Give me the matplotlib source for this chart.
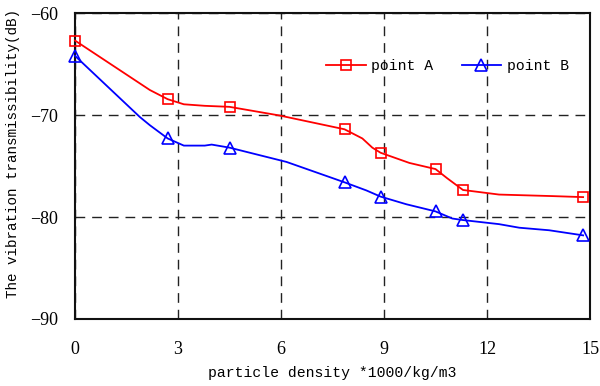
import matplotlib
matplotlib.use("Agg")
import matplotlib.pyplot as plt

# Measured transmissibility curves (dB) versus particle density (*1000 kg/m3)
density_a = [0, 2.18, 2.7, 3.17, 3.78, 4.5, 5.96, 7.85, 8.37, 8.66, 8.9, 9.74,
             10.5, 10.84, 11.3, 12.35, 13.9, 14.8]
trans_a = [-62.7, -67.55, -68.45, -68.95, -69.1, -69.2, -70.05, -71.4, -72.3,
           -73.2, -73.7, -74.7, -75.3, -76.2, -77.35, -77.8, -77.95, -78.05]

density_b = [0, 1.89, 2.18, 2.7, 3.17, 3.78, 3.98, 4.5, 6.16, 7.85, 8.49, 8.9,
             9.65, 10.5, 10.99, 11.3, 12.35, 12.94, 13.81, 14.8]
trans_b = [-64.2, -70.2, -71.0, -72.3, -73.0, -73.0, -72.9, -73.2, -74.6,
           -76.6, -77.4, -78.0, -78.75, -79.45, -80.15, -80.3, -80.7, -81.05,
           -81.3, -81.8]

# Densities of the tested particle materials (marked points)
marked_density = [0, 2.7, 4.5, 7.85, 8.9, 10.5, 11.3, 14.8]

series_names = ["point A", "point B"]
x_ticks = [0, 3, 6, 9, 12, 15]
y_ticks = [-90, -80, -70, -60]

tick_font = "Liberation Serif"
label_font = "Liberation Mono"

fig = plt.figure(figsize=(6.0, 3.86), dpi=100)
ax = fig.add_axes([75 / 600, 1 - 319 / 386, 515 / 600, 306 / 386])


def marker_positions(xs):
    return [xs.index(d) for d in marked_density]


ax.plot(density_a, trans_a, color="#ff0000", lw=1.3, marker="s", ms=7.5,
        mfc="none", mec="#ff0000", mew=1.2,
        markevery=marker_positions(density_a), label=series_names[0],
        zorder=3, clip_on=False)
ax.plot(density_b, trans_b, color="#0000ff", lw=1.3, marker="^", ms=8,
        mfc="none", mec="#0000ff", mew=1.2,
        markevery=marker_positions(density_b), label=series_names[1],
        zorder=3, clip_on=False)

ax.set_xlim(0, 15)
ax.set_ylim(-90, -60)
ax.set_xticks(x_ticks)
ax.set_yticks(y_ticks)
ax.tick_params(length=0, labelsize=13)
ax.tick_params(axis="x", pad=16)
ax.tick_params(axis="y", pad=12)
for lbl in ax.get_xticklabels() + ax.get_yticklabels():
    lbl.set_fontfamily(tick_font)

ax.grid(True, color="#222222", lw=1.0, linestyle=(0, (7, 5)))
ax.set_axisbelow(True)

for side in ax.spines.values():
    side.set_linewidth(1.5)
    side.set_color("#111111")

ax.set_xlabel("particle density *1000/kg/m3", fontfamily=label_font,
              fontsize=10.6)
ax.xaxis.set_label_coords(0.5, -0.155)
ax.set_ylabel("The vibration transmissibility(dB)", fontfamily=label_font,
              fontsize=10.3)
ax.yaxis.set_label_coords(-0.107, 0.54)

ax.legend(loc="center left", bbox_to_anchor=(0.487, 0.827), ncol=2,
          frameon=False, prop={"family": label_font, "size": 10.6},
          borderpad=0, borderaxespad=0, handlelength=2.7,
          handletextpad=0.4, columnspacing=1.9)

fig.savefig("out.png", dpi=100)
